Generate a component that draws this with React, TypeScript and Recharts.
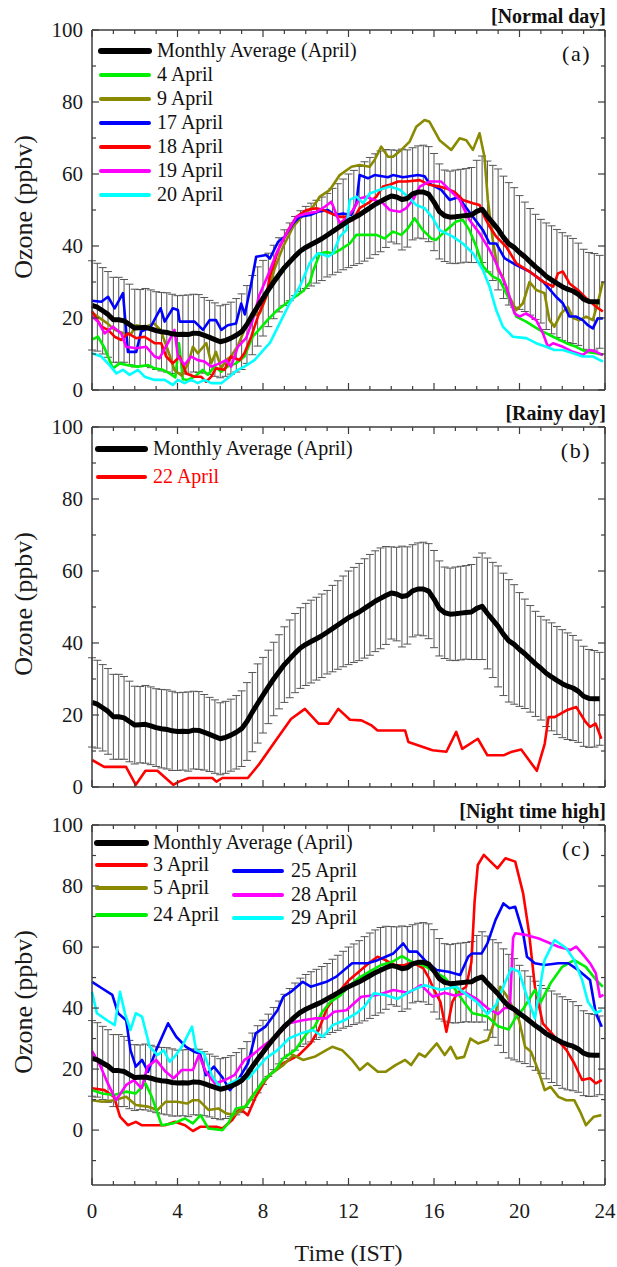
import React from 'react';
import { LineChart, Line, XAxis, YAxis, ErrorBar, Legend } from 'recharts';

const FONT = '"Liberation Serif", "Times New Roman", Times, serif';
const AXIS_COLOR = '#3c3c3c';

// ---------- categories / ticks ----------
const HOURS: number[] = Array.from({ length: 96 }, (_, i) => i / 4);
const X_TICKS = [0, 1, 2, 3, 4, 5, 6, 7, 8, 9, 10, 11, 12, 13, 14, 15, 16, 17, 18, 19, 20, 21, 22, 23, 24];
const Y_TICKS_AB = [0, 10, 20, 30, 40, 50, 60, 70, 80, 90, 100];
const Y_TICKS_C = [-10, 0, 10, 20, 30, 40, 50, 60, 70, 80, 90, 100];

// ---------- monthly average (April), 15-min resolution ----------
const MONTHLY_AVG = [
  23.5, 23, 22, 21, 19.5, 19.5, 19.2, 18.2, 17.2, 17.3, 17.4, 17,
  16.5, 16.2, 16, 15.6, 15.4, 15.5, 15.4, 15.8, 15.7, 15.2, 14.6, 14,
  13.4, 13.8, 14.4, 15.2, 16.2, 18.2, 20.8, 23.2, 25.5, 27.8, 30, 32,
  34, 35.6, 37.2, 38.6, 39.6, 40.4, 41.2, 42, 43, 44, 45, 46,
  47, 47.8, 48.6, 49.6, 50.6, 51.6, 52.4, 53.2, 53.9, 53.6, 52.9, 53.2,
  54.5, 55, 55, 54.4, 52.2, 49.6, 48.4, 48, 48.1, 48.3, 48.5, 48.6,
  49.6, 50.2, 48.2, 46.4, 44.6, 42.4, 40.6, 39.6, 38.2, 37, 35.6, 34.2,
  33, 31.6, 30.6, 29.6, 28.7, 28, 27.5, 26.6, 25.2, 24.6, 24.5, 24.5,
];
const MONTHLY_SD = [
  12.4, 12.2, 12, 11.9, 11.8, 11.8, 11.5, 11.2, 10.8, 10.6, 10.8, 10.8,
  10.8, 10.9, 11, 11, 10.8, 10.8, 11, 10.8, 10.8, 10.5, 10.3, 10.2,
  10, 10, 10, 10.2, 10.5, 10.8, 11, 11, 10.5, 10.2, 10.2, 10.3,
  10.5, 10.8, 11, 11.2, 11.4, 11.5, 11.5, 11.6, 11.6, 12, 12.3, 12.6,
  13, 13.2, 13.5, 13.8, 14, 14, 14, 13.6, 12.8, 13, 14, 13.5,
  12.8, 12.8, 13, 13.2, 13.5, 13.2, 12.7, 12.8, 13, 13, 13, 13.2,
  14.2, 14.8, 15.4, 16, 16.8, 17, 17, 16.6, 15.8, 15.2, 14.8, 14.6,
  14.4, 14.8, 15, 15, 15, 14.8, 14.6, 14.2, 13.9, 13.6, 13.4, 12.9,
];

// ---------- (a) normal days: [hour, ozone] ----------
const APR04: [number, number][] = [
  [0, 14], [0.28, 14.8], [0.59, 11.6], [0.98, 6], [1.29, 7.4], [1.68, 6.9], [2.15, 6.5], [2.62, 6.9],
  [2.93, 6], [3.32, 5.6], [3.63, 4.6], [3.9, 3.5], [4.07, 13], [4.25, 3], [4.49, 2.8], [4.8, 3.7],
  [5.19, 5.6], [5.42, 4.2], [5.73, 6.5], [6.05, 5.1], [6.35, 6.5], [6.74, 7.4], [7.13, 9.3], [7.52, 14.8],
  [7.85, 17], [8.22, 19.5], [8.63, 22], [9.41, 25.5], [9.88, 27.5], [10.2, 30], [10.34, 33], [10.66, 37.9],
  [10.97, 38.3], [11.28, 37.9], [11.6, 38.9], [12.06, 40.7], [12.37, 43.1], [12.83, 43.1], [13.3, 43.1],
  [13.69, 42.1], [14.08, 44], [14.47, 43.1], [14.78, 44.9], [15.09, 47.7], [15.48, 44.4], [15.87, 42.1],
  [16.1, 41.7], [16.57, 44.4], [17.04, 46.8], [17.35, 47.2], [17.66, 44.4], [17.98, 39.8], [18.29, 34.3],
  [18.75, 31.5], [19.07, 30.6], [19.53, 25], [19.85, 20.4], [20.31, 19], [20.93, 16.7], [21.57, 14.8],
  [22.19, 13], [22.65, 12], [23.12, 10.6], [23.59, 10.2], [23.9, 9.7],
];
const APR09: [number, number][] = [
  [0, 21.5], [0.72, 18.5], [1.06, 16.7], [1.5, 15.7], [1.84, 15.7], [2.07, 18], [2.5, 17.5], [2.9, 18.5],
  [3.2, 16.7], [3.55, 11.1], [3.86, 5.5], [4.2, 4], [4.5, 7.4], [4.72, 12], [4.95, 10.2], [5.35, 13],
  [5.58, 7.4], [5.8, 10.6], [6.05, 6], [6.27, 8.3], [6.5, 9.3], [6.8, 12], [7.13, 16.7], [7.5, 20.5],
  [7.85, 21.3], [8.16, 26], [8.55, 33.8], [8.94, 39.8], [9.41, 45.4], [9.88, 48.6], [10.34, 50.9],
  [10.66, 53.7], [11.13, 55.6], [11.59, 59.7], [12.14, 62], [12.52, 62.5], [12.99, 62], [13.22, 63.9],
  [13.53, 67.6], [13.85, 64.8], [14.08, 64.8], [14.47, 66.7], [14.86, 69], [15.17, 73.1], [15.56, 75],
  [15.79, 74.5], [16.26, 69.4], [16.81, 66.7], [17.2, 69.9], [17.51, 69.4], [17.82, 66.7], [18.13, 71.3],
  [18.36, 64.8], [18.52, 52.8], [18.75, 41.7], [18.99, 33.3], [19.22, 31.5], [19.53, 25.9], [19.85, 22.2],
  [20.16, 24.1], [20.47, 30], [20.78, 27.8], [21.17, 26.9], [21.4, 19.4], [21.63, 17.6], [21.95, 21.3],
  [22.26, 23.1], [22.5, 20], [22.81, 19.4], [23.12, 20.4], [23.43, 19.4], [23.66, 24.1], [23.9, 30.1],
];
const APR17: [number, number][] = [
  [0, 24.8], [0.44, 24.5], [0.75, 25.9], [1.06, 22.7], [1.45, 26.9], [1.68, 10.6], [2.07, 10.6], [2.3, 16.2],
  [2.74, 17.5], [3.21, 22.7], [3.4, 19], [3.78, 22.7], [4.02, 22.2], [4.1, 19], [4.8, 19], [5.19, 16.7],
  [5.5, 19.4], [5.8, 19.4], [6.05, 16.7], [6.35, 18], [6.74, 18.5], [6.98, 24], [7.15, 21], [7.45, 29.6],
  [7.68, 37], [8.15, 37.5], [8.32, 36.5], [8.71, 41.2], [9.02, 42.6], [9.41, 46.3], [9.72, 48.1],
  [10.2, 48.6], [10.57, 49.5], [11.04, 50], [11.35, 48.6], [11.74, 49], [12.13, 48.6], [12.37, 51.9],
  [12.52, 59.7], [12.91, 58.8], [13.22, 59.7], [13.85, 59.1], [14.08, 59.7], [14.55, 59.1], [15.25, 59.7],
  [15.56, 59.4], [15.79, 57.3], [16.34, 55.6], [16.73, 52.8], [17.2, 53.7], [17.35, 51.9], [17.82, 48.1],
  [18.29, 44.4], [18.6, 40.7], [18.91, 40.7], [19.3, 36.6], [19.85, 34.7], [20.47, 32.9], [21.1, 30.1],
  [21.71, 25.9], [22.03, 24.1], [22.34, 20.4], [22.65, 20.4], [22.96, 19.4], [23.2, 18], [23.43, 17.1],
  [23.66, 19.9], [23.9, 19.9],
];
const APR18: [number, number][] = [
  [0, 21.9], [0.44, 17.6], [0.75, 16.7], [1.06, 14.8], [1.37, 13.9], [1.68, 15.7], [2.07, 14.4], [2.46, 14.8],
  [2.93, 13], [3.24, 13], [3.47, 9.3], [3.78, 7.4], [4.1, 9.3], [4.41, 4.6], [4.8, 3.7], [5.1, 3.7],
  [5.34, 2.3], [5.58, 3.7], [5.8, 6], [6.2, 5.6], [6.5, 9.3], [6.9, 8.3], [7.13, 10.2], [7.45, 14.8],
  [7.76, 20.4], [8.15, 26], [8.32, 31.5], [8.71, 38.9], [9.17, 44.4], [9.56, 48.1], [10.03, 50],
  [10.5, 50.5], [10.81, 50], [11.2, 49], [11.59, 48.1], [11.9, 48.1], [12.21, 47.2], [12.52, 50.5],
  [12.91, 51.9], [13.3, 53.7], [13.61, 56.5], [13.93, 57], [14.32, 57.9], [14.7, 57.9], [15.33, 58.3],
  [15.79, 57], [16.26, 56.5], [16.57, 56], [16.96, 55], [17.35, 52.8], [17.82, 51.9], [18.13, 51.4],
  [18.36, 48.1], [18.6, 45.4], [18.91, 42.6], [19.38, 39.8], [19.85, 35.2], [20.47, 32.9], [21.1, 30.1],
  [21.57, 28.7], [21.8, 32.4], [22.03, 32.9], [22.34, 29.6], [22.73, 27.8], [23.12, 25.5], [23.59, 23.1],
  [23.9, 21.8],
];
const APR19: [number, number][] = [
  [0, 20.4], [0.28, 19], [0.59, 15.7], [0.98, 17.6], [1.37, 15.7], [1.6, 12], [2.07, 11.6], [2.54, 12],
  [2.93, 9.3], [3.15, 8.8], [3.55, 13], [3.86, 16.7], [4.02, 9.3], [4.33, 7], [4.64, 9.3], [4.95, 8.3],
  [5.26, 7.9], [5.58, 6.5], [5.97, 7.4], [6.27, 8.3], [6.51, 6.5], [6.82, 12], [7.21, 14.4], [7.52, 19.4],
  [7.83, 26.4], [8.24, 32], [8.63, 38], [9.1, 43.5], [9.56, 48.1], [10.03, 49], [10.5, 49.5], [10.89, 50.9],
  [11.2, 52.3], [11.35, 50], [11.59, 46.3], [11.9, 47.7], [12.21, 50], [12.52, 53.2], [12.83, 53.7],
  [13.22, 52.8], [13.61, 51.9], [13.93, 50], [14.4, 49.5], [14.7, 50.5], [15.02, 52.8], [15.33, 56.5],
  [15.79, 57.9], [16.34, 57.9], [16.73, 55.6], [17.2, 52.8], [17.66, 47.2], [18.13, 43.5], [18.6, 38.9],
  [18.91, 35.2], [19.38, 28.7], [19.77, 21.3], [20, 20.4], [20.31, 21.3], [20.78, 19.4], [21.1, 15.7],
  [21.33, 12], [21.57, 13], [22.03, 12], [22.5, 10.6], [22.96, 9.7], [23.27, 11.1], [23.59, 10.6], [23.9, 9.7],
];
const APR20: [number, number][] = [
  [0, 10.2], [0.44, 9.3], [0.82, 6.9], [1.14, 4.6], [1.45, 5.6], [1.76, 4.2], [2.15, 5.6], [2.46, 3.7],
  [2.93, 2.8], [3.4, 2.8], [3.78, 1.4], [4.02, 2.8], [4.33, 1.9], [4.64, 2.8], [4.95, 1.9], [5.26, 2.8],
  [5.58, 1.9], [6.05, 1.9], [6.43, 3.7], [6.82, 5.6], [7.13, 6.5], [7.6, 8.3], [8.15, 12], [8.32, 13],
  [8.78, 18.5], [9.25, 24.1], [9.72, 28.7], [10.18, 35.2], [10.57, 38], [10.89, 37.5], [11.04, 37],
  [11.28, 38], [11.59, 42.6], [11.9, 44.4], [12.06, 52.8], [12.37, 53.7], [12.68, 51.9], [12.99, 54.6],
  [13.46, 55.6], [13.93, 56.5], [14.4, 55.6], [14.78, 53.7], [15.17, 51.4], [15.56, 50.5], [15.95, 47.7],
  [16.26, 44.4], [16.88, 42.6], [17.35, 40.7], [17.82, 38], [18.29, 33.3], [18.6, 28.7], [18.91, 22.2],
  [19.22, 17.6], [19.69, 14.8], [20.31, 14.4], [20.78, 13], [21.25, 12], [21.63, 11.1], [22.03, 11.1],
  [22.5, 10.2], [22.96, 9.3], [23.43, 9.3], [23.9, 7.9],
];

// ---------- (b) rainy day ----------
const APR22: [number, number][] = [
  [0, 7.5], [0.57, 5.6], [1.59, 5.6], [2.05, 0.6], [2.5, 4.5], [3.06, 4.5], [3.8, 0.6], [4.07, 1.5],
  [4.53, 2.5], [5.63, 2.5], [5.82, 1.5], [6.1, 2.5], [7.29, 2.5], [7.84, 6.5], [8.58, 12.8], [9.31, 18.9],
  [9.96, 21.7], [10.6, 17.6], [11.06, 17.6], [11.52, 21.7], [12.07, 18.7], [12.6, 18.5], [13.08, 17.1],
  [13.36, 15.7], [14.65, 15.7], [14.8, 12.5], [15.93, 10.2], [16.58, 9.8], [17.04, 15.3], [17.32, 10.6],
  [18.05, 13.4], [18.5, 8.8], [19.25, 8.8], [19.6, 9.7], [20.08, 10.4], [20.81, 4.5], [21.18, 12],
  [21.36, 19.4], [21.64, 19.4], [22.2, 21.3], [22.66, 22.2], [23.1, 18], [23.3, 16.7], [23.56, 17.6],
  [23.83, 13.4],
];

// ---------- (c) night time high ----------
const APR03: [number, number][] = [
  [0, 13.7], [0.58, 13.1], [1.03, 10.9], [1.31, 4.4], [1.68, 1.6], [2.05, 2.7], [2.32, 1.6], [3.41, 1.6],
  [3.88, 2.7], [4.35, 1.6], [4.72, -0.3], [5.08, 1.1], [5.82, 1.1], [6.1, 0.5], [6.56, 3.3], [6.92, 7.1],
  [7.29, 4.9], [7.66, 10.9], [8.21, 17.5], [8.95, 21.9], [9.68, 24.6], [10.23, 28.4], [10.6, 32.8],
  [11, 40], [11.5, 45], [12, 49], [12.5, 52], [13, 55], [13.36, 56.8], [13.73, 55.7], [14.2, 54],
  [14.6, 54], [15, 55], [15.5, 53], [15.75, 50], [16, 46], [16.3, 42], [16.58, 32.2], [16.86, 42],
  [17.1, 45], [17.5, 47], [17.75, 55], [17.9, 75], [18.05, 86.9], [18.33, 90.2], [18.97, 85.8],
  [19.34, 89.1], [19.8, 88], [20.17, 77.6], [20.45, 64.5], [20.72, 47], [21.09, 35], [21.64, 30.6],
  [22.2, 26.2], [22.56, 21.9], [22.93, 16.4], [23.3, 17], [23.57, 15.3], [23.85, 16.4],
];
const APR05: [number, number][] = [
  [0, 9.8], [0.48, 9.3], [1.03, 9.8], [1.6, 10.9], [2.05, 8.2], [2.6, 7.7], [3.07, 6.6], [3.45, 9.3],
  [3.99, 9.3], [4.45, 8.7], [4.72, 9.8], [4.99, 9.8], [5.45, 6.6], [5.91, 7.1], [6.27, 5.5], [6.64, 4.9],
  [7.1, 7.1], [7.47, 10.9], [7.84, 14.2], [8.4, 18.6], [8.95, 21.3], [9.41, 24.6], [9.87, 23], [10.41, 24],
  [10.96, 26.2], [11.24, 27.3], [11.7, 26.2], [12.16, 23], [12.53, 19.7], [12.89, 21.9], [13.37, 19.1],
  [13.73, 19.1], [14.2, 21.3], [14.65, 23], [14.93, 21.3], [15.3, 25.1], [15.58, 24], [16.13, 28.4],
  [16.5, 24.6], [16.78, 27.3], [17.06, 23.5], [17.41, 24], [17.7, 30], [18.06, 28.4], [18.52, 29.5],
  [18.8, 35], [19.1, 47], [19.4, 44], [19.7, 40], [19.98, 36], [20.26, 27.3], [20.54, 25.7], [20.9, 19.1],
  [21.18, 13.1], [21.45, 14.2], [21.82, 10.9], [22.19, 9.8], [22.56, 9.8], [22.84, 6], [23.11, 1.6],
  [23.48, 4.4], [23.83, 4.9],
];
const APR24: [number, number][] = [
  [0, 13.1], [0.48, 12], [1.03, 11.5], [1.6, 12.6], [2.05, 12], [2.5, 15.3], [2.8, 10.9], [3.26, 1.6],
  [3.8, 2.2], [4.35, 3.8], [4.72, 2.2], [5.08, 4.9], [5.45, 0.5], [6.1, 0], [6.37, 2.2], [6.74, 7.1],
  [7.2, 7.7], [7.57, 11.5], [8.03, 16.4], [8.58, 19.7], [8.95, 23.5], [9.5, 26.2], [10.05, 31.7],
  [10.41, 33.9], [10.78, 38.8], [11.15, 42], [11.6, 44], [12, 47], [12.5, 50], [13, 52], [13.5, 54],
  [14, 55], [14.5, 57], [15, 55], [15.5, 54], [16, 52], [16.5, 50], [17, 46], [17.4, 42], [17.8, 38.3],
  [18.5, 37.2], [19, 34], [19.5, 33], [19.8, 36.6], [20.2, 40], [20.72, 45.9], [21, 42], [21.45, 48.1],
  [22, 53.5], [22.56, 55.7], [23.1, 53.5], [23.66, 48.6], [23.9, 47],
];
const APR25: [number, number][] = [
  [0, 48.6], [0.48, 46.4], [0.95, 44.3], [1.22, 38.3], [1.6, 36], [1.8, 26.2], [2.05, 20.8], [2.34, 23],
  [2.62, 19.1], [3, 26.2], [3.56, 35], [3.94, 30.6], [4.4, 27.3], [4.77, 25.7], [5.05, 25.1], [5.33, 18],
  [5.7, 20.8], [6.08, 17.5], [6.45, 13.1], [6.83, 16.4], [7.3, 21.9], [7.66, 31.7], [8.13, 34],
  [8.68, 39.3], [8.95, 43.7], [9.3, 45.3], [9.86, 48.6], [10.23, 47], [10.97, 48.6], [11.43, 50.3],
  [12.17, 54.7], [12.9, 54.7], [13.36, 55.7], [14.1, 57.9], [14.56, 61.2], [14.83, 58.5], [15.2, 58.5],
  [15.57, 55.7], [16.12, 52.5], [16.67, 51.9], [17.22, 50.8], [17.6, 56.8], [17.78, 57.9], [18.23, 57.9],
  [18.5, 61.2], [18.88, 68.9], [19.25, 74.3], [19.53, 72.7], [19.8, 73.2], [20.17, 64.5], [20.35, 56.8],
  [20.72, 54.7], [21.17, 54.1], [21.82, 54.7], [22.28, 54.7], [22.74, 52.5], [23.3, 49.2], [23.57, 38.3],
  [23.85, 33.9],
];
const APR28: [number, number][] = [
  [0, 26], [0.37, 21.3], [0.74, 15.3], [1.12, 9.8], [1.6, 14.8], [1.96, 16.4], [2.32, 13.7], [2.6, 20.8],
  [3, 23], [3.45, 19.1], [3.82, 17], [4.2, 19.7], [4.72, 19.7], [5, 24.6], [5.33, 19.1], [5.75, 15.3],
  [6.22, 16.4], [6.66, 18], [7.13, 23], [7.5, 24.6], [7.96, 27.3], [8.58, 30.6], [9.22, 35], [9.86, 36],
  [10.41, 36.6], [10.96, 36.6], [11.33, 38.8], [11.9, 39.3], [12.6, 43.7], [13.36, 44.3], [14.1, 45.9],
  [14.8, 45], [15.4, 47.5], [15.95, 43.7], [16.5, 45], [17, 44], [17.5, 45], [18, 43], [18.5, 40],
  [19, 38], [19.3, 40], [19.55, 40], [19.7, 63], [19.8, 64.5], [20.35, 63.9], [20.9, 62.8], [21.82, 60.1],
  [22.38, 59], [22.65, 60.1], [22.93, 57.9], [23.3, 54.7], [23.57, 51.4], [23.76, 43.7], [23.93, 44.3],
];
const APR29: [number, number][] = [
  [0, 45.3], [0.23, 38.3], [0.7, 36], [1.06, 34.4], [1.31, 45.3], [1.55, 38], [1.8, 32.8], [2.05, 38.3],
  [2.34, 37.2], [2.7, 27.3], [3.07, 24.6], [3.35, 26.2], [3.63, 22.4], [3.93, 24.6], [4.2, 27.3],
  [4.68, 33.9], [4.87, 26.2], [5.24, 25.1], [5.6, 18], [6.08, 13.1], [6.45, 15.3], [6.91, 16.9],
  [7.3, 16.9], [7.66, 19.7], [8.13, 23.5], [8.68, 26.2], [9.23, 30.1], [9.78, 31.7], [10.33, 32.8],
  [10.8, 30.6], [11.26, 34.4], [11.81, 36], [12.37, 38.3], [12.74, 40.4], [13.18, 44.8], [13.73, 44.3],
  [14.3, 43], [14.83, 45.3], [15.57, 47.5], [16.3, 46], [17.04, 47], [17.6, 44], [18, 42], [18.5, 38],
  [18.9, 41], [19.3, 48], [19.62, 53], [19.98, 51.9], [20.35, 43.7], [20.72, 36.6], [21.17, 55.7],
  [21.64, 62.3], [22.19, 59.6], [22.56, 55.7], [22.93, 49.2], [23.2, 42.1], [23.57, 38.3], [23.85, 39.3],
];

// ---------- colours / names ----------
const GREEN = '#00ee00';
const OLIVE = '#8a8a00';
const BLUE = '#0000ff';
const RED = '#ff0000';
const MAGENTA = '#ff00ff';
const CYAN = '#00ffff';

type Series = { name: string; color: string; points: [number, number][] };

const SERIES_A: Series[] = [
  { name: '4 April', color: GREEN, points: APR04 },
  { name: '9 April', color: OLIVE, points: APR09 },
  { name: '17 April', color: BLUE, points: APR17 },
  { name: '18 April', color: RED, points: APR18 },
  { name: '19 April', color: MAGENTA, points: APR19 },
  { name: '20 April', color: CYAN, points: APR20 },
];
const SERIES_B: Series[] = [{ name: '22 April', color: RED, points: APR22 }];
const SERIES_C: Series[] = [
  { name: '3 April', color: RED, points: APR03 },
  { name: '5 April', color: OLIVE, points: APR05 },
  { name: '24 April', color: GREEN, points: APR24 },
  { name: '25 April', color: BLUE, points: APR25 },
  { name: '28 April', color: MAGENTA, points: APR28 },
  { name: '29 April', color: CYAN, points: APR29 },
];

type LegendRow = { label: string; color: string; thick: boolean; x1: number; x2: number; tx: number; y: number; textColor?: string };

const LEGEND_A: LegendRow[] = [
  { label: 'Monthly Average (April)', color: '#000', thick: true, x1: 101, x2: 149, tx: 157, y: 51 },
  { label: '4 April', color: GREEN, thick: false, x1: 101, x2: 149, tx: 157, y: 75 },
  { label: '9 April', color: OLIVE, thick: false, x1: 101, x2: 149, tx: 157, y: 99 },
  { label: '17 April', color: BLUE, thick: false, x1: 101, x2: 149, tx: 157, y: 123 },
  { label: '18 April', color: RED, thick: false, x1: 101, x2: 149, tx: 157, y: 147 },
  { label: '19 April', color: MAGENTA, thick: false, x1: 101, x2: 149, tx: 157, y: 171 },
  { label: '20 April', color: CYAN, thick: false, x1: 101, x2: 149, tx: 157, y: 195 },
];
const LEGEND_B: LegendRow[] = [
  { label: 'Monthly Average (April)', color: '#000', thick: true, x1: 98, x2: 145, tx: 153, y: 52 },
  { label: '22 April', color: RED, thick: false, x1: 98, x2: 145, tx: 153, y: 80, textColor: RED },
];
const LEGEND_C: LegendRow[] = [
  { label: 'Monthly Average (April)', color: '#000', thick: true, x1: 97, x2: 146, tx: 153, y: 46 },
  { label: '3 April', color: RED, thick: false, x1: 97, x2: 146, tx: 153, y: 68 },
  { label: '5 April', color: OLIVE, thick: false, x1: 97, x2: 146, tx: 153, y: 91 },
  { label: '24 April', color: GREEN, thick: false, x1: 97, x2: 146, tx: 153, y: 118 },
  { label: '25 April', color: BLUE, thick: false, x1: 234, x2: 282, tx: 291, y: 74 },
  { label: '28 April', color: MAGENTA, thick: false, x1: 234, x2: 282, tx: 291, y: 98 },
  { label: '29 April', color: CYAN, thick: false, x1: 234, x2: 282, tx: 291, y: 121 },
];

// ---------- helpers ----------
const PLOT_H = 360;
const CHART_W = 617;
const PLOT_LEFT = 92;
const PLOT_RIGHT = 605;
const AX = 1; // thickness of the (empty) axis boxes

const toPts = (pairs: [number, number][]) => pairs.map(([h, v]) => ({ h, v }));
const AVG_DATA = HOURS.map((h, i) => ({ h, v: MONTHLY_AVG[i], sd: MONTHLY_SD[i] }));

function XTick(props: any) {
  const { x, payload, side, showLabel, axisY } = props;
  const v = payload.value as number;
  const major = v % 4 === 0;
  const len = major ? 7 : 4;
  const dir = side === 'bottom' ? -1 : 1;
  const y0 = axisY;
  return (
    <g>
      <line x1={x} x2={x} y1={y0} y2={y0 + dir * len} stroke={AXIS_COLOR} strokeWidth={1.2} />
      {showLabel && major && (
        <text x={x} y={y0 + 33} textAnchor="middle" fontFamily={FONT} fontSize={21} fill="#1a1a1a">
          {v}
        </text>
      )}
    </g>
  );
}

function YTick(props: any) {
  const { y, payload, side, axisX } = props;
  const v = payload.value as number;
  const major = v % 20 === 0;
  const len = major ? 7 : 4;
  const dir = side === 'left' ? 1 : -1;
  const x0 = axisX;
  return (
    <g>
      <line x1={x0} x2={x0 + dir * len} y1={y} y2={y} stroke={AXIS_COLOR} strokeWidth={1.2} />
      {side === 'left' && major && (
        <text x={x0 - 9} y={y + 7} textAnchor="end" fontFamily={FONT} fontSize={21} fill="#1a1a1a">
          {v}
        </text>
      )}
    </g>
  );
}

function YTitle({ centerY }: { centerY: number }) {
  return (
    <text
      transform={`translate(23, ${centerY}) rotate(-90)`}
      textAnchor="middle"
      dominantBaseline="central"
      fontFamily={FONT}
      fontSize={26}
      fill="#1a1a1a"
    >
      Ozone (ppbv)
    </text>
  );
}

function XTitle({ baseline }: { baseline: number }) {
  return (
    <text x={(PLOT_LEFT + PLOT_RIGHT) / 2} y={baseline} textAnchor="middle" fontFamily={FONT} fontSize={24} fill="#1a1a1a">
      Time (IST)
    </text>
  );
}

function Overlay({ rows, title, tag, plotTop, height }: { rows: LegendRow[]; title: string; tag: string; plotTop: number; height: number }) {
  return (
    <svg width={CHART_W} height={height} style={{ display: 'block' }}>
      <text x={606} y={plotTop - 7} textAnchor="end" fontFamily={FONT} fontSize={20} fontWeight="bold" fill="#111">
        {title}
      </text>
      <text x={591} y={plotTop + 31} textAnchor="end" fontFamily={FONT} fontSize={22} letterSpacing={1.5} fill="#111">
        {tag}
      </text>
      {rows.map((r) => (
        <g key={r.label}>
          <line x1={r.x1} x2={r.x2} y1={r.y} y2={r.y} stroke={r.color} strokeWidth={r.thick ? 6 : 4} strokeLinecap="round" />
          <text x={r.tx} y={r.y + 6} fontFamily={FONT} fontSize={20} fill={r.textColor || '#111'}>
            {r.label}
          </text>
        </g>
      ))}
    </svg>
  );
}

type PanelProps = {
  top: number;
  height: number;
  plotTop: number;
  yDomain: [number, number];
  yTicks: number[];
  series: Series[];
  legend: LegendRow[];
  title: string;
  tag: string;
  showXLabels: boolean;
};

function Panel({ top, height, plotTop, yDomain, yTicks, series, legend, title, tag, showXLabels }: PanelProps) {
  const plotBottom = plotTop + PLOT_H;
  const marginBottom = height - plotBottom - AX;
  const axisLine = { stroke: AXIS_COLOR, strokeWidth: 1.5 };
  return (
    <div style={{ position: 'absolute', left: 0, top }}>
      <LineChart
        width={CHART_W}
        height={height}
        margin={{ top: plotTop - AX, right: CHART_W - PLOT_RIGHT - AX, bottom: marginBottom, left: PLOT_LEFT - AX }}
      >
        <XAxis
          xAxisId="b"
          dataKey="h"
          type="number"
          domain={[0, 24]}
          ticks={X_TICKS}
          interval={0}
          orientation="bottom"
          height={AX}
          tickSize={0}
          tickMargin={0}
          tickLine={false}
          axisLine={axisLine}
          tick={<XTick side="bottom" showLabel={showXLabels} axisY={plotBottom} />}
          label={showXLabels ? <XTitle baseline={plotBottom + 76} /> : undefined}
        />
        <XAxis
          xAxisId="t"
          dataKey="h"
          type="number"
          domain={[0, 24]}
          ticks={X_TICKS}
          interval={0}
          orientation="top"
          height={AX}
          tickSize={0}
          tickMargin={0}
          tickLine={false}
          axisLine={axisLine}
          tick={<XTick side="top" showLabel={false} axisY={plotTop} />}
        />
        <YAxis
          yAxisId="l"
          type="number"
          domain={yDomain}
          ticks={yTicks}
          interval={0}
          orientation="left"
          width={AX}
          tickSize={0}
          tickMargin={0}
          tickLine={false}
          axisLine={axisLine}
          tick={<YTick side="left" axisX={PLOT_LEFT} />}
          label={<YTitle centerY={plotTop + PLOT_H / 2 - 3} />}
        />
        <YAxis
          yAxisId="r"
          type="number"
          domain={yDomain}
          ticks={yTicks}
          interval={0}
          orientation="right"
          width={AX}
          tickSize={0}
          tickMargin={0}
          tickLine={false}
          axisLine={axisLine}
          tick={<YTick side="right" axisX={PLOT_RIGHT} />}
        />
        {/* anchor for the mirrored axes */}
        <Line
          xAxisId="t"
          yAxisId="r"
          data={AVG_DATA}
          dataKey="v"
          stroke="none"
          dot={false}
          activeDot={false}
          legendType="none"
          isAnimationActive={false}
        />
        {/* error bars of the monthly average (drawn beneath the curves) */}
        <Line
          xAxisId="b"
          yAxisId="l"
          data={AVG_DATA}
          dataKey="v"
          stroke="none"
          dot={false}
          activeDot={false}
          legendType="none"
          isAnimationActive={false}
        >
          <ErrorBar dataKey="sd" width={4} stroke="#555" strokeWidth={1} direction="y" />
        </Line>
        {series.map((s) => (
          <Line
            key={s.name}
            name={s.name}
            xAxisId="b"
            yAxisId="l"
            data={toPts(s.points)}
            dataKey="v"
            type="linear"
            stroke={s.color}
            strokeWidth={2.6}
            strokeLinejoin="round"
            dot={false}
            activeDot={false}
            isAnimationActive={false}
          />
        ))}
        <Line
          name="Monthly Average (April)"
          xAxisId="b"
          yAxisId="l"
          data={AVG_DATA}
          dataKey="v"
          type="linear"
          stroke="#000"
          strokeWidth={5}
          strokeLinejoin="round"
          dot={false}
          activeDot={false}
          isAnimationActive={false}
        />
        <Legend
          layout="horizontal"
          verticalAlign="middle"
          align="center"
          wrapperStyle={{ left: 0, top: 0, width: CHART_W, height, margin: 0, padding: 0, pointerEvents: 'none' }}
          content={() => <Overlay rows={legend} title={title} tag={tag} plotTop={plotTop} height={height} />}
        />
      </LineChart>
    </div>
  );
}

export default function App() {
  return (
    <div style={{ position: 'absolute', left: 0, top: 0, width: 617, height: 1267, background: '#fff', fontFamily: FONT }}>
      <Panel
        top={0}
        height={404}
        plotTop={30}
        yDomain={[0, 100]}
        yTicks={Y_TICKS_AB}
        series={SERIES_A}
        legend={LEGEND_A}
        title="[Normal day]"
        tag="(a)"
        showXLabels={false}
      />
      <Panel
        top={397}
        height={406}
        plotTop={30}
        yDomain={[0, 100]}
        yTicks={Y_TICKS_AB}
        series={SERIES_B}
        legend={LEGEND_B}
        title="[Rainy day]"
        tag="(b)"
        showXLabels={false}
      />
      <Panel
        top={797}
        height={470}
        plotTop={28}
        yDomain={[-18, 100]}
        yTicks={Y_TICKS_C}
        series={SERIES_C}
        legend={LEGEND_C}
        title="[Night time high]"
        tag="(c)"
        showXLabels={true}
      />
    </div>
  );
}
